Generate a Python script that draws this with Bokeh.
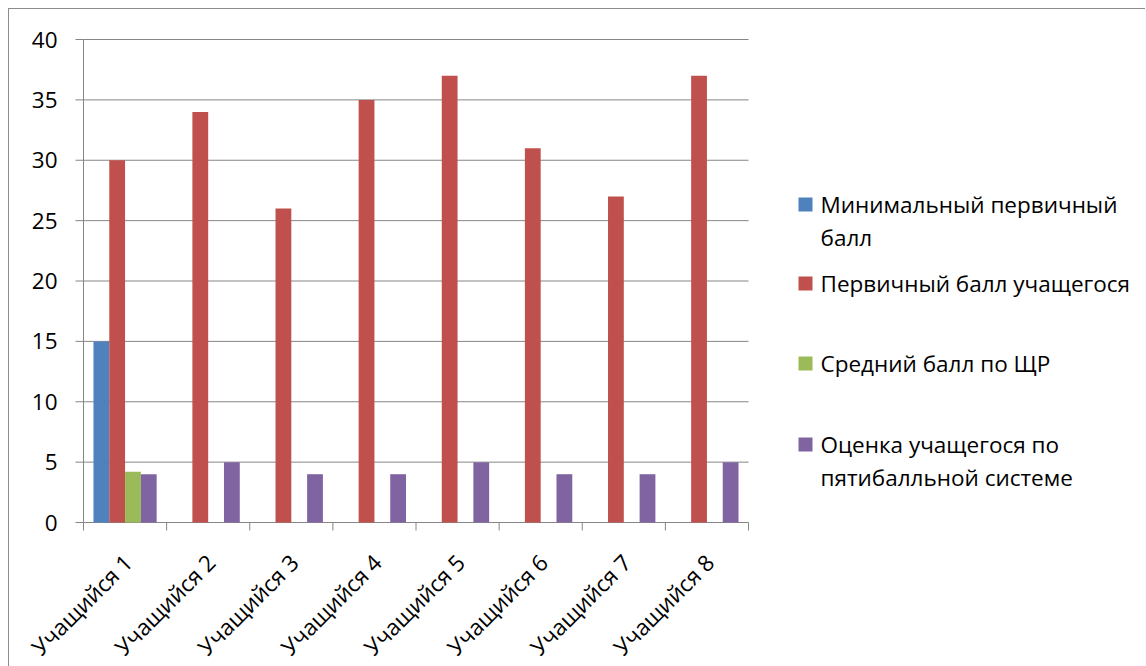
import math
import numpy as np
from bokeh.plotting import figure
from bokeh.models import Range1d, ColumnDataSource, Spacer
from bokeh.layouts import row, column
from bokeh.core.properties import value
from bokeh.embed import file_html
from bokeh.resources import INLINE

categories = ["Учащийся 1", "Учащийся 2", "Учащийся 3", "Учащийся 4",
              "Учащийся 5", "Учащийся 6", "Учащийся 7", "Учащийся 8"]
series_names = ["Минимальный первичный\nбалл", "Первичный балл учащегося",
                "Средний балл по ЩР", "Оценка учащегося по\nпятибалльной системе"]
min_score = [15, 0, 0, 0, 0, 0, 0, 0]
student_score = [30, 34, 26, 35, 37, 31, 27, 37]
avg_score = [4.2, 0, 0, 0, 0, 0, 0, 0]
grade = [4, 5, 4, 4, 5, 4, 4, 5]
y_ticks = [0, 5, 10, 15, 20, 25, 30, 35, 40]
y_max = 40

colors = ["#4F81BD", "#C0504D", "#9BBB59", "#8064A2"]
series = [min_score, student_score, avg_score, grade]
FONT = "Open Sans"
GRAY = "#868686"
FS = "22.5px"

# ---- layout in page pixels ----
PAD = 8
FIG_TOP = PAD + 1
FIG_H = 666 - FIG_TOP
CH_W = 760
LG_W = 1145 - FIG_TOP - CH_W
FR_L, FR_R, FR_T, FR_B = 83, 748, 39, 522     # plot area
LG_X0 = FIG_TOP + CH_W

n = len(categories)
idx = np.arange(n)
bw = 0.19
pxc = (FR_R - FR_L) / n            # pixels per category
ppu = (FR_B - FR_T) / y_max        # pixels per value unit

x_lo = -0.5 - (FR_L - FIG_TOP) / pxc
x_hi = n - 0.5 + (FIG_TOP + CH_W - FR_R) / pxc
y_lo = -(FIG_TOP + FIG_H - FR_B) / ppu
y_hi = y_max + (FR_T - FIG_TOP) / ppu

p = figure(width=CH_W, height=FIG_H, x_range=Range1d(x_lo, x_hi), y_range=Range1d(y_lo, y_hi),
           output_backend="svg", toolbar_location=None, min_border=0)
p.axis.visible = False
p.grid.visible = False
p.outline_line_color = None
p.background_fill_color = "white"
p.border_fill_color = "white"

left, right = -0.5, n - 0.5

# horizontal gridlines (0 is the category axis line)
p.segment(x0=[left] * len(y_ticks), x1=[right] * len(y_ticks), y0=y_ticks, y1=y_ticks,
          line_color=GRAY, line_width=1)
# value axis line + ticks + labels
p.segment(x0=[left], x1=[left], y0=[0], y1=[y_max], line_color=GRAY, line_width=1)
tick_x = 8 / pxc
p.segment(x0=[left - tick_x] * len(y_ticks), x1=[left] * len(y_ticks), y0=y_ticks, y1=y_ticks,
          line_color=GRAY, line_width=1)
p.text(x=[left - 26 / pxc] * len(y_ticks), y=y_ticks, text=[str(t) for t in y_ticks],
       text_font=value(FONT), text_font_size=FS, text_align="right", text_baseline="middle",
       text_color="black")

# category boundary ticks
bounds = list(np.arange(n + 1) - 0.5)
tick_y = 8 / ppu
p.segment(x0=bounds, x1=bounds, y0=[0] * len(bounds), y1=[-tick_y] * len(bounds),
          line_color=GRAY, line_width=1)

# bars
for k, (vals, col) in enumerate(zip(series, colors)):
    src = ColumnDataSource(dict(x=idx + (k - 1.5) * bw, top=vals))
    p.vbar(x="x", top="top", bottom=0, width=bw, source=src, fill_color=col, line_color=None)

# rotated category labels
p.text(x=list(idx + 3 / pxc), y=[-36 / ppu] * n, text=categories, angle=math.pi / 4,
       text_font=value(FONT), text_font_size=FS, text_align="right", text_baseline="middle",
       text_color="black")

# ---- legend panel: coordinates in page pixels ----
leg = figure(width=LG_W, height=FIG_H, x_range=Range1d(LG_X0, LG_X0 + LG_W),
             y_range=Range1d(FIG_TOP + FIG_H, FIG_TOP),
             output_backend="svg", toolbar_location=None, min_border=0)
leg.axis.visible = False
leg.grid.visible = False
leg.outline_line_color = None
leg.border_fill_color = "white"
leg.background_fill_color = "white"

row_y = [204, 283, 363, 444]
line_gap = 33
sq_x, txt_x = 805, 820
leg.rect(x=[sq_x] * 4, y=row_y, width=14, height=14, fill_color=colors, line_color=None)
tx, ty, tt = [], [], []
for name, y0 in zip(series_names, row_y):
    for j, line in enumerate(name.split("\n")):
        tx.append(txt_x)
        ty.append(y0 + j * line_gap)
        tt.append(line)
leg.text(x=tx, y=ty, text=tt, text_font=value(FONT), text_font_size=FS,
         text_baseline="middle", text_align="left", text_color="black")

inner = row(p, leg, styles={"border-left": "1px solid #8c8c8c", "border-top": "1px solid #8c8c8c"})
layout = column(Spacer(height=PAD), row(Spacer(width=PAD), inner))

open("out.html", "w").write(file_html(layout, INLINE))
